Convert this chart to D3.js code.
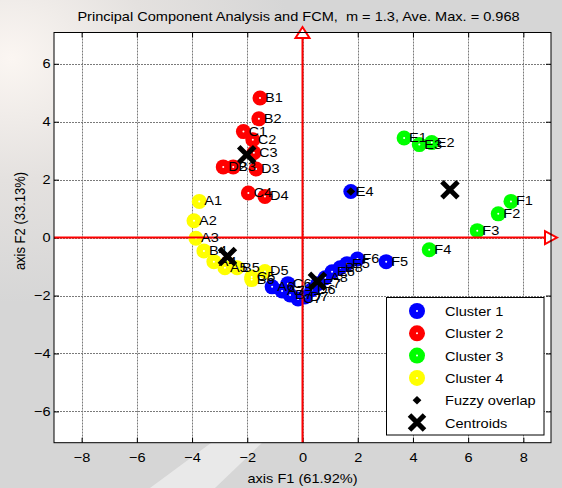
<!DOCTYPE html>
<html>
<head>
<meta charset="utf-8">
<script src="https://cdn.jsdelivr.net/npm/d3@7"></script>
<style>
  html, body { margin: 0; padding: 0; background: #d5d5d5; }
  svg { display: block; }
  text { font-family: "Liberation Sans", Arial, sans-serif; font-size: 13px; fill: #000; white-space: pre; }
</style>
</head>
<body>
<svg id="chart" width="562" height="488"></svg>
<script>
// ---- data: PCA scores (F1, F2) per FCM cluster ----
const cluster1Labels = ["A6","A7","B7","C7","D7","C6","D6","E7","A8","E6","B8","E5","F6","F5","E4"];
const cluster1F1 = [-1.10,-0.74,-0.45,-0.16, 0.09,-0.53, 0.34, 0.56, 0.82, 1.07, 1.36, 1.61, 1.99, 3.03, 1.75];
const cluster1F2 = [-1.70,-1.84,-1.98,-2.12,-2.05,-1.59,-1.80,-1.59,-1.39,-1.18,-1.04,-0.90,-0.74,-0.83, 1.59];

const cluster2Labels = ["B1","B2","C1","C2","C3","D2","B3","D3","C4","D4"];
const cluster2F1 = [-1.54,-1.58,-2.14,-1.80,-1.76,-2.87,-2.51,-1.68,-1.96,-1.36];
const cluster2F2 = [ 4.82, 4.10, 3.66, 3.38, 2.93, 2.44, 2.44, 2.37, 1.54, 1.42];

const cluster3Labels = ["E1","E3","E2","F1","F2","F3","F4"];
const cluster3F1 = [3.68, 4.23, 4.68, 7.55, 7.09, 6.33, 4.59];
const cluster3F2 = [3.44, 3.21, 3.28, 1.25, 0.82, 0.24,-0.42];

const cluster4Labels = ["A1","A2","A3","B4","A4","A5","B5","C5","D5","B6"];
const cluster4F1 = [-3.74,-3.93,-3.86,-3.57,-3.21,-2.81,-2.37,-1.84,-1.36,-1.84];
const cluster4F2 = [ 1.25, 0.58,-0.02,-0.46,-0.83,-1.04,-1.04,-1.36,-1.17,-1.45];

// points whose largest membership is low
const fuzzyLabels = ["E4"];

const centroidF1 = [0.54,-2.02, 5.34,-2.72];
const centroidF2 = [-1.51, 2.86, 1.65,-0.65];

const clusterNames = ["Cluster 1","Cluster 2","Cluster 3","Cluster 4"];
const clusterColors = ["#0000ff","#ff0000","#00ff00","#ffff00"];

const xTicks = [-8,-6,-4,-2,0,2,4,6,8];
const yTicks = [-6,-4,-2,0,2,4,6];

const titleText = "Principal Component Analysis and FCM,  m = 1.3, Ave. Max. = 0.968";
const xTitle = "axis F1 (61.92%)";
const yTitle = "axis F2 (33.13%)";

// ---- layout ----
const W = 562, H = 488;
const plot = { left: 54, right: 551, top: 32.5, bottom: 442.7 };
const SX = 1.12; // horizontal text stretch

const clusters = [
  { labels: cluster1Labels, f1: cluster1F1, f2: cluster1F2 },
  { labels: cluster2Labels, f1: cluster2F1, f2: cluster2F2 },
  { labels: cluster3Labels, f1: cluster3F1, f2: cluster3F2 },
  { labels: cluster4Labels, f1: cluster4F1, f2: cluster4F2 }
].map((c, k) => c.labels.map((lab, i) => ({ label: lab, f1: c.f1[i], f2: c.f2[i], k })));
const points = clusters.flat();

const x = d3.scaleLinear().domain([-9, 9]).range([plot.left, plot.right]);
const y = d3.scaleLinear().domain([-7.08, 7.08]).range([plot.bottom, plot.top]);

const svg = d3.select("#chart");

// ---- figure background ----
const defs = svg.append("defs");
const rg = defs.append("radialGradient").attr("id", "bgGlow")
  .attr("cx", 0.02).attr("cy", 0.12).attr("r", 0.5);
rg.append("stop").attr("offset", 0).attr("stop-color", "#fbf6f2");
rg.append("stop").attr("offset", 0.5).attr("stop-color", "#e4e1df");
rg.append("stop").attr("offset", 1).attr("stop-color", "#d6d6d6");
svg.append("rect").attr("width", W).attr("height", H).attr("fill", "url(#bgGlow)");
svg.append("path")
  .attr("d", "M150,488 L215,440 L265,440 L215,488 Z")
  .attr("fill", "#eeeeee").attr("opacity", 0.8);

// plot area
svg.append("rect")
  .attr("x", plot.left).attr("y", plot.top)
  .attr("width", plot.right - plot.left).attr("height", plot.bottom - plot.top)
  .attr("fill", "#ffffff");

// ---- grid ----
const grid = svg.append("g").attr("stroke", "#7a7a7a").attr("stroke-width", 1)
  .attr("stroke-dasharray", "2,1");
grid.selectAll("line.gx").data(xTicks).join("line")
  .attr("x1", d => Math.round(x(d)) + 0.5).attr("x2", d => Math.round(x(d)) + 0.5)
  .attr("y1", plot.top).attr("y2", plot.bottom);
grid.selectAll("line.gy").data(yTicks).join("line")
  .attr("y1", d => Math.round(y(d)) + 0.5).attr("y2", d => Math.round(y(d)) + 0.5)
  .attr("x1", plot.left).attr("x2", plot.right);

// ---- axes (ticks inside the box) ----
function styleAxis(g) {
  g.select(".domain").remove();
  g.selectAll(".tick line").attr("stroke", "#000");
}
const gx = svg.append("g").attr("transform", `translate(0,${plot.bottom})`)
  .call(d3.axisBottom(x).tickValues(xTicks).tickSizeInner(-5).tickSizeOuter(0).tickPadding(10))
  .call(styleAxis);
gx.selectAll(".tick text").attr("transform", `scale(${SX},1)`);
svg.append("g").attr("transform", `translate(0,${plot.top})`)
  .call(d3.axisTop(x).tickValues(xTicks).tickSizeInner(-5).tickSizeOuter(0).tickFormat(""))
  .call(styleAxis);
const gy = svg.append("g").attr("transform", `translate(${plot.left},0)`)
  .call(d3.axisLeft(y).tickValues(yTicks).tickSizeInner(-5).tickSizeOuter(0).tickPadding(3))
  .call(styleAxis);
gy.selectAll(".tick text").attr("transform", `scale(${SX},1)`);
svg.append("g").attr("transform", `translate(${plot.right},0)`)
  .call(d3.axisRight(y).tickValues(yTicks).tickSizeInner(-5).tickSizeOuter(0).tickFormat(""))
  .call(styleAxis);
svg.selectAll(".tick text").style("font-size", "13px")
  .style("font-family", "'Liberation Sans', Arial, sans-serif");

// ---- cluster points ----
const gp = svg.append("g");
gp.selectAll("circle.pt").data(points).join("circle")
  .attr("cx", d => x(d.f1)).attr("cy", d => y(d.f2)).attr("r", 7.5)
  .attr("fill", d => clusterColors[d.k]);
gp.selectAll("circle.dot").data(points).join("circle")
  .attr("cx", d => x(d.f1)).attr("cy", d => y(d.f2)).attr("r", 1)
  .attr("fill", "#ffffff");

// fuzzy overlap marker: small filled diamond
const diamond = "M0,-4.2 L4.4,0 L0,4.2 L-4.4,0 Z";
gp.selectAll("path.fz").data(points.filter(d => fuzzyLabels.includes(d.label))).join("path")
  .attr("d", diamond)
  .attr("transform", d => `translate(${x(d.f1)},${y(d.f2)})`)
  .attr("fill", "#000");

// ---- red principal axes with arrow heads ----
const red = svg.append("g").attr("stroke", "#ff0000").attr("stroke-width", 2);
red.append("line").attr("x1", x(-9)).attr("x2", x(9) - 5).attr("y1", y(0)).attr("y2", y(0));
red.append("line").attr("x1", x(0)).attr("x2", x(0)).attr("y1", y(-7.08)).attr("y2", y(7.08) + 5);
red.append("path")
  .attr("d", `M${x(0)},${y(7.08) - 5.5} L${x(0) + 7},${y(7.08) + 5.5} L${x(0) - 7},${y(7.08) + 5.5} Z`)
  .attr("fill", "#ffffff");
red.append("path")
  .attr("d", `M${x(9) + 6},${y(0)} L${x(9) - 6},${y(0) - 6.5} L${x(9) - 6},${y(0) + 6.5} Z`)
  .attr("fill", "#ffffff");

// ---- point labels ----
svg.append("g").selectAll("text").data(points).join("text")
  .attr("transform", d => `translate(${x(d.f1) + 5},${y(d.f2) + 4}) scale(${SX},1)`)
  .text(d => d.label);

// ---- centroids ----
const cents = centroidF1.map((v, i) => ({ f1: v, f2: centroidF2[i] }));
function drawX(g, cx, cy, s) {
  g.append("path")
    .attr("d", `M${cx - s},${cy - s} L${cx + s},${cy + s} M${cx - s},${cy + s} L${cx + s},${cy - s}`)
    .attr("stroke", "#000").attr("stroke-width", 5).attr("fill", "none");
}
const gc = svg.append("g");
cents.forEach(c => drawX(gc, x(c.f1), y(c.f2), 8));

// ---- plot frame ----
svg.append("rect")
  .attr("x", plot.left).attr("y", plot.top)
  .attr("width", plot.right - plot.left).attr("height", plot.bottom - plot.top)
  .attr("fill", "none").attr("stroke", "#000").attr("stroke-width", 1);

// ---- titles ----
svg.append("text")
  .attr("transform", `translate(${(plot.left + plot.right) / 2 - 4},21) scale(${SX},1)`)
  .attr("text-anchor", "middle").text(titleText);
svg.append("text")
  .attr("transform", `translate(${(plot.left + plot.right) / 2},483) scale(${SX},1)`)
  .attr("text-anchor", "middle").text(xTitle);
svg.append("text")
  .attr("transform", `translate(25,221) scale(${SX},1) rotate(-90)`)
  .attr("text-anchor", "middle").text(yTitle);

// ---- legend ----
const lg = svg.append("g");
lg.append("rect").attr("x", 386.5).attr("y", 297.5).attr("width", 157.5).attr("height", 137.5)
  .attr("fill", "#ffffff").attr("stroke", "#000").attr("stroke-width", 1);
const rowY = i => 311 + i * 22.3;
const mx = 417, tx = 445;
clusterNames.forEach((name, i) => {
  lg.append("circle").attr("cx", mx).attr("cy", rowY(i)).attr("r", 8).attr("fill", clusterColors[i]);
  lg.append("circle").attr("cx", mx).attr("cy", rowY(i)).attr("r", 1).attr("fill", "#fff");
  lg.append("text").attr("transform", `translate(${tx},${rowY(i) + 5}) scale(${SX},1)`).text(name);
});
lg.append("path").attr("d", diamond).attr("transform", `translate(${mx},${rowY(4)})`).attr("fill", "#000");
lg.append("text").attr("transform", `translate(${tx},${rowY(4) + 5}) scale(${SX},1)`).text("Fuzzy overlap");
drawX(lg, mx, rowY(5), 7.5);
lg.append("text").attr("transform", `translate(${tx},${rowY(5) + 5}) scale(${SX},1)`).text("Centroids");
</script>
</body>
</html>
